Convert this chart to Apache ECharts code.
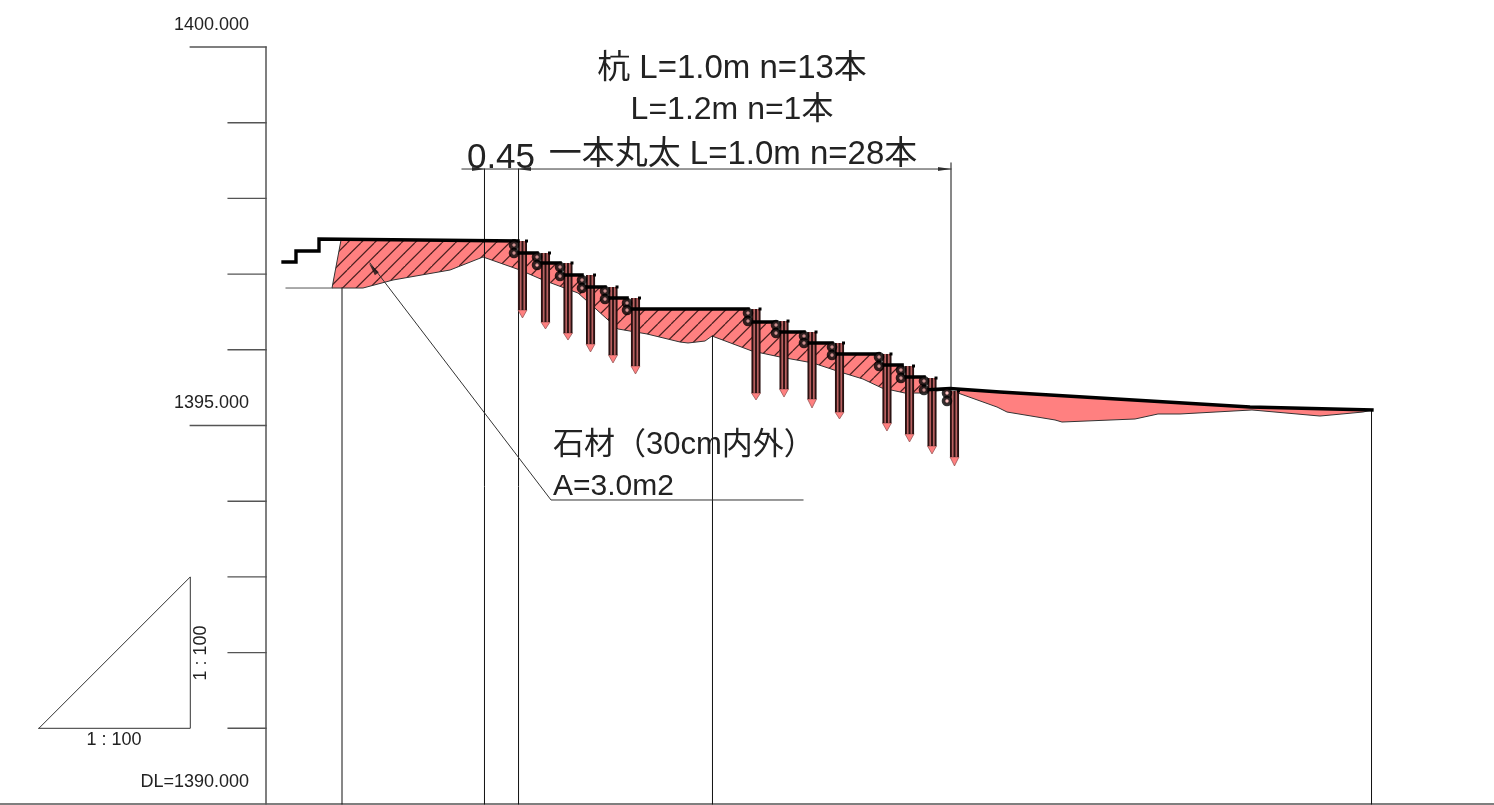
<!DOCTYPE html>
<html><head><meta charset="utf-8">
<style>html,body{margin:0;padding:0;background:#fff}#c{width:1494px;height:805px}</style>
<script src="https://cdn.jsdelivr.net/npm/echarts@6/dist/echarts.min.js"></script>
</head><body><div id="c"></div>
<script>
// --- values: distance (m), elevation (m) ---
const yTickMajor = [1400, 1395];
const yTickMinor = [1399,1398,1397,1396,1394,1393,1392,1391];

const surfaceSteps = [[0.225,1397.160],[0.396,1397.160],[0.396,1397.305],[0.700,1397.305],[0.700,1397.464],[3.329,1397.437]];
const surfaceLedges = [[3.276,1397.437],[3.276,1397.279],[3.580,1397.279],[3.580,1397.147],[3.884,1397.147],[3.884,1396.988],[4.174,1396.988],[4.174,1396.830],[4.478,1396.830],[4.478,1396.684],[4.769,1396.684],[4.769,1396.539],[6.367,1396.539],[6.367,1396.367],[6.737,1396.367],[6.737,1396.235],[7.107,1396.235],[7.107,1396.090],[7.477,1396.090],[7.477,1395.945],[8.098,1395.945],[8.098,1395.799],[8.402,1395.799],[8.402,1395.641],[8.692,1395.641],[8.692,1395.469]];
const surfaceSlope = [[8.692,1395.469],[9.036,1395.489],[9.696,1395.443],[12.999,1395.244],[14.610,1395.205]];

const hatchedBottom = [[8.970,1395.469],[8.639,1395.429],[8.441,1395.429],[8.137,1395.495],[7.886,1395.614],[7.583,1395.707],[7.226,1395.826],[6.790,1395.905],[6.420,1395.984],[5.892,1396.182],[5.799,1396.116],[5.575,1396.090],[5.469,1396.103],[5.033,1396.209],[4.650,1396.275],[4.373,1396.526],[4.122,1396.750],[3.659,1396.922],[3.355,1397.054],[2.867,1397.226],[2.431,1397.054],[1.678,1396.922],[1.281,1396.816],[0.872,1396.816]];
const hatchedTopStart = [[0.991,1397.450],[3.276,1397.437]];
const plainTop = [[9.141,1395.476],[9.696,1395.443],[12.999,1395.244],[14.610,1395.205]];
const plainBottom = [[14.491,1395.178],[13.923,1395.125],[13.025,1395.205],[12.074,1395.152],[11.783,1395.152],[11.480,1395.086],[10.515,1395.046],[10.423,1395.073],[9.789,1395.178],[9.657,1395.244],[9.141,1395.429]];

const pileX        = [3.388,3.692,3.989,4.287,4.584,4.881,6.473,6.843,7.213,7.576,8.203,8.501,8.798,9.095];
const pileTop      = [1397.437,1397.279,1397.147,1396.988,1396.830,1396.684,1396.539,1396.380,1396.235,1396.090,1395.945,1395.786,1395.627,1395.456];
const pileShaftEnd = [1396.526,1396.367,1396.222,1396.077,1395.931,1395.786,1395.429,1395.482,1395.350,1395.178,1395.033,1394.888,1394.729,1394.584];
const pileTip      = [1396.420,1396.275,1396.129,1395.971,1395.826,1395.680,1395.337,1395.376,1395.231,1395.086,1394.927,1394.782,1394.624,1394.465];

const logX     = [3.276,3.580,3.884,4.174,4.478,4.769,6.367,6.737,7.107,7.477,8.098,8.388,8.692,8.996];
const logUpper = [1397.384,1397.226,1397.094,1396.922,1396.777,1396.618,1396.486,1396.328,1396.182,1396.037,1395.905,1395.733,1395.588,1395.429];
const logLower = [1397.279,1397.120,1396.975,1396.816,1396.671,1396.526,1396.380,1396.222,1396.090,1395.931,1395.786,1395.627,1395.469,1395.324];

const stationX   = [1.004,2.886,3.336,5.898,14.604];
const stationTop = [1396.816,1398.388,1398.388,1396.182,1395.205];
const dimensionLine = [[2.589,1398.388],[9.049,1398.388]];
const dimensionEnd  = [[9.049,1398.468],[9.049,1395.489]];
const baseStub = [[0.264,1396.816],[0.872,1396.816]];
const leader = [[1.374,1397.147],[3.765,1394.016],[7.094,1394.016]];
const slopeTriangle = [[-3,1391],[-1,1391],[-1,1393],[-3,1391]];

const labelTexts = ['杭 L=1.0m n=13本','L=1.2m n=1本','一本丸太 L=1.0m n=28本','0.45','石材（30cm内外）','A=3.0m2','1400.000','1395.000','DL=1390.000','1 : 100','1 : 100'];
const labelX = [6.156,6.156,6.169,3.104,3.791,3.791,-0.225,-0.225,-0.225,-2.008,-0.860];
const labelY = [1399.716,1399.161,1398.580,1398.530,1394.736,1394.194,1400.285,1395.291,1390.285,1390.845,1391.995];

// --- styling ---
const FONT = '"Liberation Sans","Noto Sans CJK JP",sans-serif';
const INK = '#111', THIN = '#333', RED = '#ff8080';
const labelStyle = [
 {s:33,a:'center'},{s:32,a:'center'},{s:33,a:'center'},{s:35,a:'center'},{s:31,a:'left'},{s:30,a:'left'},
 {s:18,a:'right'},{s:18,a:'right'},{s:18,a:'right'},{s:18,a:'center'},{s:18,a:'center',r:Math.PI/2}];

function hatchPattern(){
  const t=27, c=document.createElement('canvas'); c.width=t; c.height=t;
  const g=c.getContext('2d'); g.fillStyle=RED; g.fillRect(0,0,t,t);
  g.strokeStyle='#4a1f1f'; g.lineWidth=1.2;
  [-27,0,27].forEach(k=>[9.7,23.2].forEach(o=>{ g.beginPath(); g.moveTo(o+k,0); g.lineTo(o+k-27,27); g.stroke(); }));
  return c;
}
const pattern = {image:hatchPattern(),repeat:'repeat'};

const lineSeries=(data,width,color,z)=>({type:'line',data,clip:false,symbol:'none',silent:true,z:z||3,
  lineStyle:{width,color,cap:'square',join:'miter'}});
const polySeries=(pts,fill,z)=>({type:'custom',coordinateSystem:'cartesian2d',clip:false,silent:true,z:z||1,
  data:pts.map(p=>p),encode:{x:0,y:1},
  renderItem:(params,api)=>{
    if(params.dataIndex!==0) return null;
    return {type:'polygon',shape:{points:pts.map(p=>api.coord(p))},style:{fill,stroke:THIN,lineWidth:1}};
  }});

const hatchedPoly = hatchedTopStart.concat(surfaceLedges.slice(1),hatchedBottom);
const plainPoly = plainTop.concat(plainBottom);
const logData = logX.flatMap((x,i)=>[[x,logUpper[i]],[x,logLower[i]]]);
const pileData = pileX.map((x,i)=>[x,pileTop[i],pileShaftEnd[i],pileTip[i]]);

const option={
  animation:false,backgroundColor:'#fff',
  grid:{left:0,top:47,width:1494,height:757},
  xAxis:{type:'value',min:-3.514,max:16.222,splitLine:{show:false},axisLabel:{show:false},axisTick:{show:false},
    axisLine:{show:true,lineStyle:{color:'#555',width:1.5}}},
  yAxis:{type:'value',min:1390,max:1400,interval:1,splitLine:{show:false},axisLabel:{show:false},
    axisTick:{show:false},axisLine:{show:true,onZero:true,lineStyle:{color:'#555',width:1.5}}},
  series:[
    polySeries(hatchedPoly,pattern,1),
    polySeries(plainPoly,RED,1),
    ...yTickMinor.map(v=>lineSeries([[-0.5,v],[0,v]],1.4,'#555')),
    ...yTickMajor.map(v=>lineSeries([[-1,v],[0,v]],1.4,'#555')),
    ...stationX.map((x,i)=>lineSeries([[x,stationTop[i]],[x,1390]],1,INK)),
    lineSeries(dimensionEnd,1,INK),
    lineSeries(dimensionLine,1,THIN),
    lineSeries(baseStub,1,'#555'),
    lineSeries(leader,1,THIN),
    lineSeries(slopeTriangle,1,THIN),
    {type:'scatter',clip:false,silent:true,z:4,symbol:'triangle',symbolSize:[4,13],itemStyle:{color:INK},
      data:[{value:[2.807,1398.388],symbolRotate:-90},{value:[3.415,1398.388],symbolRotate:90},{value:[8.963,1398.388],symbolRotate:-90}]},
    {type:'scatter',clip:false,silent:true,z:4,symbol:'triangle',symbolSize:[5,13],symbolRotate:37,itemStyle:{color:INK},
      data:[[1.413,1397.074]]},
    {type:'custom',coordinateSystem:'cartesian2d',clip:false,silent:true,z:5,data:pileData,encode:{x:0,y:[1,2,3]},
      renderItem:(p,api)=>{
        const a=api.coord([api.value(0),api.value(1)]),b=api.coord([api.value(0),api.value(2)]),t=api.coord([api.value(0),api.value(3)]);
        const w=4,x=a[0],kids=[
          {type:'rect',shape:{x:x-w,y:a[1],width:2*w,height:b[1]-a[1]},style:{fill:'#b86060'}},
          {type:'polygon',shape:{points:[[x-w-0.5,b[1]],[x+w+0.5,b[1]],[t[0],t[1]]]},style:{fill:RED,stroke:'#8a4a4a',lineWidth:0.7}}];
        [-3.6,0,3.6].forEach(d=>kids.push({type:'line',shape:{x1:x+d,y1:a[1],x2:x+d,y2:b[1]},style:{stroke:'#2a1212',lineWidth:1.9}}));
        kids.push({type:'rect',shape:{x:x+w-1.5,y:a[1]-1.5,width:3,height:3},style:{fill:'#000'}});
        return {type:'group',children:kids};
      }},
    lineSeries(surfaceSteps,3.4,'#000',6),
    lineSeries(surfaceLedges,3.6,'#000',6),
    lineSeries(surfaceSlope,3.4,'#000',6),
    {type:'scatter',clip:false,silent:true,z:7,data:logData,symbol:'circle',symbolSize:7,
      itemStyle:{color:'#ffb0b0',borderColor:'#000',borderWidth:3.6}},
    {type:'custom',coordinateSystem:'cartesian2d',clip:false,silent:true,z:8,
      data:labelX.map((x,i)=>[x,labelY[i]]),encode:{x:0,y:1},
      renderItem:(p,api)=>{
        const i=p.dataIndex,st=labelStyle[i],c=api.coord([api.value(0),api.value(1)]);
        return {type:'text',x:c[0],y:c[1],rotation:st.r||0,
          style:{text:labelTexts[i],font:st.s+'px '+FONT,fill:'#222',align:st.a,verticalAlign:'middle'}};
      }}
  ]
};
echarts.init(document.getElementById('c')).setOption(option);
</script></body></html>
